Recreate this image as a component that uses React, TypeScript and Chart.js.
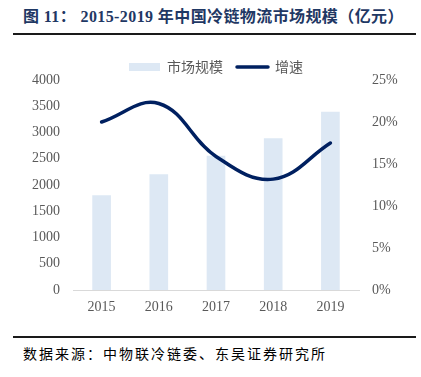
import React, { useEffect, useRef } from "react";
import Chart from "chart.js/auto";

const years = ["2015", "2016", "2017", "2018", "2019"];
const marketSize = [1800, 2200, 2550, 2886, 3391];
const growthRate = [0.2, 0.222, 0.159, 0.132, 0.175];
const seriesNames = ["市场规模", "增速"];
const titleText = "图 11： 2015-2019 年中国冷链物流市场规模（亿元）";
const sourceText = "数据来源：中物联冷链委、东吴证券研究所";

const BAR_COLOR = "#dde8f4";
const LINE_COLOR = "#002060";
const TICK_COLOR = "#595959";
const SERIF = '"Liberation Serif", "Times New Roman", serif';
const CJK = '"Noto Sans CJK SC", sans-serif';

export default function App() {
  const ref = useRef<HTMLCanvasElement>(null);

  useEffect(() => {
    if (!ref.current) return;
    const tickFont = { family: SERIF, size: 14 };
    const chart = new Chart(ref.current, {
      type: "bar",
      data: {
        labels: years,
        datasets: [
          {
            type: "bar",
            label: seriesNames[0],
            data: marketSize,
            backgroundColor: BAR_COLOR,
            borderWidth: 0,
            barThickness: 18,
            yAxisID: "y",
            order: 2,
          },
          {
            type: "line",
            label: seriesNames[1],
            data: growthRate,
            borderColor: LINE_COLOR,
            backgroundColor: LINE_COLOR,
            borderWidth: 3.5,
            borderCapStyle: "round",
            tension: 0.4,
            pointRadius: 0,
            yAxisID: "y1",
            order: 1,
          },
        ],
      },
      options: {
        responsive: false,
        animation: false,
        devicePixelRatio: 1,
        layout: { padding: { top: 6, left: 0, right: 0, bottom: 0 } },
        plugins: {
          tooltip: { enabled: false },
          legend: {
            position: "top",
            fullSize: false,
            maxHeight: 34,
            labels: {
              usePointStyle: true,
              pointStyleWidth: 31,
              boxHeight: 8,
              padding: 14,
              color: TICK_COLOR,
              font: { family: CJK, size: 14 },
              generateLabels: (c: any) => {
                const items = (Chart as any).defaults.plugins.legend.labels.generateLabels(c);
                items.forEach((it: any) => {
                  if (it.datasetIndex === 0) {
                    it.pointStyle = "rect";
                    it.lineWidth = 0;
                    it.fillStyle = BAR_COLOR;
                    it.strokeStyle = BAR_COLOR;
                  } else {
                    it.pointStyle = "line";
                    it.lineWidth = 3.5;
                    it.strokeStyle = LINE_COLOR;
                    it.lineCap = "round";
                  }
                });
                return items.sort((a: any, b: any) => a.datasetIndex - b.datasetIndex);
              },
            },
          },
        },
        scales: {
          x: {
            grid: { display: false, drawTicks: false },
            border: { display: true, color: "#d9d9d9", width: 1 },
            ticks: { font: tickFont, color: TICK_COLOR, padding: 9 },
            afterFit: (s: any) => {
              s.height = 40;
            },
          },
          y: {
            position: "left",
            min: 0,
            max: 4000,
            grid: { display: false, drawTicks: false },
            border: { display: false },
            ticks: {
              stepSize: 500,
              font: tickFont,
              color: TICK_COLOR,
              padding: 13,
              callback: (v: any) => String(v),
            },
            afterFit: (s: any) => {
              s.width = 73;
            },
          },
          y1: {
            position: "right",
            min: 0,
            max: 0.25,
            grid: { display: false, drawTicks: false },
            border: { display: false },
            ticks: {
              stepSize: 0.05,
              font: tickFont,
              color: TICK_COLOR,
              padding: 13,
              callback: (v: any) => Math.round(Number(v) * 100) + "%",
            },
            afterFit: (s: any) => {
              s.width = 62;
            },
          },
        },
      },
    } as any);
    return () => chart.destroy();
  }, []);

  return (
    <div
      style={{
        position: "absolute",
        left: 0,
        top: 0,
        width: 421,
        height: 377,
        background: "#fff",
        overflow: "hidden",
      }}
    >
      <div
        style={{
          position: "absolute",
          left: 23,
          top: 7,
          fontFamily: '"Liberation Serif", "Noto Sans CJK SC", serif',
          fontWeight: "bold",
          fontSize: 16,
          letterSpacing: "0.4px",
          lineHeight: "20px",
          color: "#1f3864",
          whiteSpace: "pre",
        }}
      >
        {titleText}
      </div>
      <div
        style={{ position: "absolute", left: 13, top: 33, width: 403, height: 2, background: "#1a1a1a" }}
      />
      <canvas
        ref={ref}
        width={421}
        height={290}
        style={{ position: "absolute", left: 0, top: 40, width: 421, height: 290 }}
      />
      <div
        style={{ position: "absolute", left: 13, top: 336, width: 403, height: 2, background: "#1a1a1a" }}
      />
      <div
        style={{
          position: "absolute",
          left: 23,
          top: 343,
          fontFamily: CJK,
          fontSize: 14,
          letterSpacing: "2px",
          lineHeight: "20px",
          color: "#000",
          whiteSpace: "nowrap",
        }}
      >
        {sourceText}
      </div>
    </div>
  );
}
